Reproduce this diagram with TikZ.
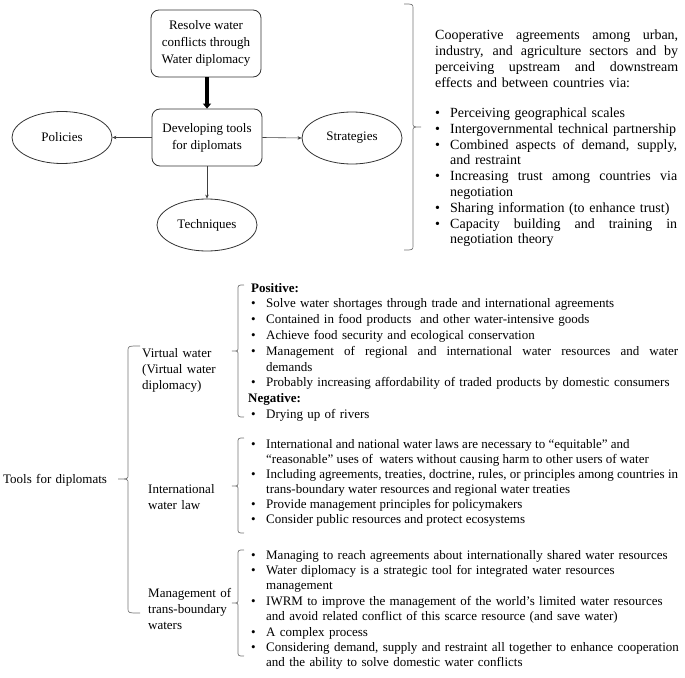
\documentclass[tikz,border=0pt]{standalone}
\usepackage{fontspec}
\setmainfont{Liberation Serif}
\usetikzlibrary{arrows.meta,shapes.geometric}
\newcommand{\bu}{\makebox[15pt][l]{\textbullet}}
\newcommand{\ind}{\hspace*{15pt}}
\newcommand{\jl}[2]{\leavevmode\hbox to #1{\spaceskip=0.25em plus 1fil\relax #2}}
\newcommand{\drawbrace}[6]{%
 \draw[brace] ({#1+#5},#2) .. controls (#1,#2) .. (#1,{#2+5}) -- (#1,{#3-4})
   .. controls (#1,#3) .. ({#1+#6},#3) .. controls (#1,#3) .. (#1,{#3+4})
   -- (#1,{#4-5}) .. controls (#1,#4) .. ({#1+#5},#4);}
\begin{document}
\begin{tikzpicture}[x=1pt,y=-1pt,
 box/.style={draw=black!80, line width=0.8pt, rounded corners=8pt, minimum width=110pt, align=center, inner sep=0pt, font=\fontsize{13}{17}\selectfont},
 ell/.style={draw=black!80, line width=0.8pt, ellipse, minimum width=100pt, minimum height=52pt, inner sep=0pt, font=\fontsize{13}{16}\selectfont},
 thinarrow/.style={draw=black!75, line width=0.6pt, -{Stealth[length=4pt,width=3.5pt]}},
 brace/.style={draw=black!55, line width=0.7pt},
 blk/.style={anchor=base west, inner sep=0pt, align=left, text width=450pt, font=\fontsize{13}{15.6}\selectfont},
]
\useasboundingbox (0,0) rectangle (685,677);

% top diagram
\node[box, minimum height=67pt] (resolve) at (206,43.5) {Resolve water\\conflicts through\\Water diplomacy};
\node[box, minimum height=57pt] (develop) at (207,137.5) {Developing tools\\for diplomats};
\node[ell] (pol) at (62,137.5) {Policies};
\node[ell] (str) at (352,138) {Strategies};
\node[ell] (tec) at (207,225) {Techniques};

\draw[line width=3.5pt, -{Triangle[length=5pt,width=8pt]}] (develop.north |- resolve.south) -- (develop.north);
\draw[thinarrow] (develop.west) -- (pol.east);
\draw[thinarrow] (develop.east) -- (str.west);
\draw[thinarrow] (develop.south) -- (tec.north);

% top right text
\drawbrace{413}{4}{127}{250}{-9}{8}
\node[blk, text width=260pt, font=\fontsize{14}{15.8}\selectfont] (coop) at (435,40)
 {\jl{243pt}{Cooperative agreements among urban,}\\
  \jl{243pt}{industry, and agriculture sectors and by}\\
  \jl{243pt}{perceiving upstream and downstream}\\
  effects and between countries via:};
\node[blk, text width=260pt, font=\fontsize{14}{15.8}\selectfont] (coopl) at (435,117.5)
 {\bu Perceiving geographical scales\\
  \bu Intergovernmental technical partnership\\
  \bu \jl{227pt}{Combined aspects of demand, supply,}\\
  \ind and restraint\\
  \bu \jl{227pt}{Increasing trust among countries via}\\
  \ind negotiation\\
  \bu Sharing information (to enhance trust)\\
  \bu \jl{227pt}{Capacity building and training in}\\
  \ind negotiation theory};

% bottom left tree
\node[blk, text width=120pt] (tools) at (3,483) {Tools for diplomats};
\drawbrace{128}{346}{479}{613}{12}{-10}
\node[blk, text width=100pt, font=\fontsize{13}{16}\selectfont] (vw) at (142,357) {Virtual water\\(Virtual water\\diplomacy)};
\node[blk, text width=100pt, font=\fontsize{13}{16}\selectfont] (iwl) at (148,493) {International\\water law};
\node[blk, text width=100pt, font=\fontsize{13}{16}\selectfont] (mtw) at (148,597) {Management of\\trans-boundary\\waters};

% bottom right lists
\drawbrace{238}{285}{351}{417}{6}{-6}
\node[blk, font=\fontsize{13}{15.8}\selectfont] (vwl) at (251,292)
 {\textbf{Positive:}\\
  \bu Solve water shortages through trade and international agreements\\
  \bu Contained in food products\ \ and other water-intensive goods\\
  \bu Achieve food security and ecological conservation\\
  \bu \jl{412pt}{Management of regional and international water resources and water}\\
  \ind demands\\
  \bu Probably increasing affordability of traded products by domestic consumers\\
  \hspace*{-3pt}\textbf{Negative:}\\
  \bu Drying up of rivers};

\drawbrace{238}{438}{486}{533}{6}{-6}
\node[blk, font=\fontsize{13}{15}\selectfont] (iwll) at (251,448)
 {\spaceskip=0.25em\relax
  \bu International and national water laws are necessary to “equitable” and\\
  \ind “reasonable” uses of\ \ waters without causing harm to other users of water\\
  \bu Including agreements, treaties, doctrine, rules, or principles among countries in\\
  \ind trans-boundary water resources and regional water treaties\\
  \bu Provide management principles for policymakers\\
  \bu Consider public resources and protect ecosystems};

\drawbrace{238}{550}{603}{656}{6}{-6}
\node[blk, font=\fontsize{13}{15.4}\selectfont] (mtwl) at (251,559)
 {\bu Managing to reach agreements about internationally shared water resources\\
  \bu Water diplomacy is a strategic tool for integrated water resources\\
  \ind management\\
  \bu IWRM to improve the management of the world’s limited water resources\\
  \ind and avoid related conflict of this scarce resource (and save water)\\
  \bu A complex process\\
  \bu Considering demand, supply and restraint all together to enhance cooperation\\
  \ind and the ability to solve domestic water conflicts};
\end{tikzpicture}
\end{document}
